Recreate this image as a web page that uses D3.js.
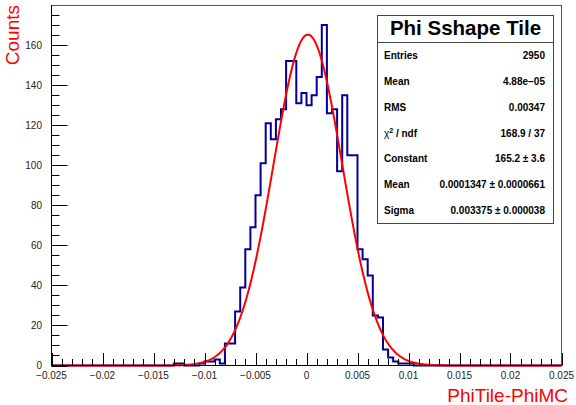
<!DOCTYPE html>
<meta charset="utf-8">
<style>
body { margin: 0; background: #fff; }
text { font-family: "Liberation Sans", Arial, Helvetica, sans-serif; }
</style>
<body>
<script src="https://cdn.jsdelivr.net/npm/d3@7"></script>
<script>

// histogram binning: 100 bins from -0.025 to 0.025
var binLow = -0.025, binWidth = 0.0005;
var counts = [
  0,0,0,0,0,0,0,0,0,0, 0,0,0,0,0,0,0,0,0,0,
  0,0,0,0,1,1,0,0,0,1, 2,2,3,1,11,11,27,39,58,69,
  85,101,121,113,123,128,152,152,131,136, 130,135,144,170,126,128,97,135,105,105,
  58,53,45,25,24,8,4,2,1,1, 1,0,0,0,0,0,0,0,0,0,
  0,0,0,0,0,0,0,0,0,0, 0,0,0,0,0,0,0,0,0,0
];

// gaussian fit parameters
var fitConst = 165.2, fitMean = 0.0001347, fitSigma = 0.003375;

var xTicks = [-0.025, -0.02, -0.015, -0.01, -0.005, 0, 0.005, 0.01, 0.015, 0.02, 0.025];
var yTicks = [0, 20, 40, 60, 80, 100, 120, 140, 160];

var statNames = ["Entries", "Mean", "RMS", "χ2 / ndf", "Constant", "Mean", "Sigma"];
var statValues = ["2950", "4.88e\u221205", "0.00347", "168.9 / 37", "165.2 \u00b1 3.6",
                  "0.0001347 \u00b1 0.0000661", "0.003375 \u00b1 0.000038"];

var W = 576, H = 405;
var fLeft = 51.5, fRight = 561.5, fTop = 5, fBottom = 365.5;

var svg = d3.select("body").append("svg")
    .attr("width", W)
    .attr("height", H);

var x = d3.scaleLinear().domain([-0.025, 0.025]).range([fLeft, fRight]);
var y = d3.scaleLinear().domain([0, 180]).range([fBottom, fTop]);

// frame
svg.append("rect")
    .attr("x", fLeft).attr("y", fTop + 0.5)
    .attr("width", fRight - fLeft).attr("height", fBottom - fTop - 0.5)
    .attr("fill", "none").attr("stroke", "#555").attr("stroke-width", 1);

// histogram outline
var pts = counts.map(function(c, i) { return [binLow + i * binWidth, c]; });
pts.push([binLow + counts.length * binWidth, counts[counts.length - 1]]);

svg.append("path")
    .datum(pts)
    .attr("fill", "none")
    .attr("stroke", "#000099")
    .attr("stroke-width", 2)
    .attr("d", d3.line()
        .x(function(d) { return x(d[0]); })
        .y(function(d) { return y(d[1]); })
        .curve(d3.curveStepAfter));

// fit curve
var fx = d3.range(0, 501).map(function(i) { return -0.025 + i * 0.0001; });
svg.append("path")
    .datum(fx)
    .attr("fill", "none")
    .attr("stroke", "#ff0000")
    .attr("stroke-width", 2)
    .attr("d", d3.line()
        .x(function(d) { return x(d); })
        .y(function(d) {
          var z = (d - fitMean) / fitSigma;
          return y(fitConst * Math.exp(-0.5 * z * z));
        }));

// axes lines
svg.append("line").attr("x1", fLeft).attr("x2", fRight).attr("y1", fBottom).attr("y2", fBottom)
    .attr("stroke", "#000");
svg.append("line").attr("x1", fLeft).attr("x2", fLeft).attr("y1", fTop).attr("y2", fBottom)
    .attr("stroke", "#000");

// x ticks (inside, pointing up)
var xMinor = d3.range(0, 51).map(function(i) { return -0.025 + i * 0.001; });
svg.append("g").selectAll("line")
    .data(xMinor).enter().append("line")
    .attr("x1", function(d) { return Math.round(x(d)) + 0.5; })
    .attr("x2", function(d) { return Math.round(x(d)) + 0.5; })
    .attr("y1", fBottom)
    .attr("y2", function(d, i) { return fBottom - (i % 5 == 0 ? 12.5 : 6.5); })
    .attr("stroke", "#000");

svg.append("g").selectAll("text")
    .data(xTicks).enter().append("text")
    .attr("x", function(d) { return x(d); })
    .attr("y", 379)
    .attr("text-anchor", "middle")
    .attr("font-size", 10)
    .attr("fill", "#222")
    .text(function(d) { return d == 0 ? "0" : d3.format("")(d).replace("-", "\u2212"); });

// y ticks (inside, pointing right)
var yMinor = d3.range(0, 36).map(function(i) { return i * 5; });
svg.append("g").selectAll("line")
    .data(yMinor).enter().append("line")
    .attr("x1", fLeft)
    .attr("x2", function(d) { return fLeft + (d % 20 == 0 ? 16 : 8); })
    .attr("y1", function(d) { return Math.round(y(d)) + 0.5; })
    .attr("y2", function(d) { return Math.round(y(d)) + 0.5; })
    .attr("stroke", "#000");

svg.append("g").selectAll("text")
    .data(yTicks).enter().append("text")
    .attr("x", 42)
    .attr("y", function(d) { return y(d) + 3.5; })
    .attr("text-anchor", "end")
    .attr("font-size", 10)
    .attr("fill", "#222")
    .text(function(d) { return d; });

// axis titles
svg.append("text")
    .attr("transform", "translate(19," + fTop + ") rotate(-90)")
    .attr("text-anchor", "end")
    .attr("font-size", 19)
    .attr("fill", "#ff0000")
    .text("Counts");

svg.append("text")
    .attr("x", 568)
    .attr("y", 402)
    .attr("text-anchor", "end")
    .attr("font-size", 19)
    .attr("fill", "#ff0000")
    .text("PhiTile-PhiMC");

// stats box
var bx0 = 377.5, bx1 = 553.5, by0 = 15.5, byDiv = 42.5, by1 = 223.5;
var box = svg.append("g");
box.append("rect")
    .attr("x", bx0).attr("y", by0)
    .attr("width", bx1 - bx0).attr("height", by1 - by0)
    .attr("fill", "#fff").attr("stroke", "#444").attr("stroke-width", 1);
box.append("line")
    .attr("x1", bx0).attr("x2", bx1).attr("y1", byDiv).attr("y2", byDiv)
    .attr("stroke", "#444");
box.append("text")
    .attr("x", (bx0 + bx1) / 2)
    .attr("y", 35)
    .attr("text-anchor", "middle")
    .attr("font-size", 20.5)
    .attr("font-weight", "bold")
    .text("Phi Sshape Tile");

var rowH = (by1 - byDiv) / statNames.length;
statNames.forEach(function(n, i) {
  var yy = byDiv + (i + 0.5) * rowH + 3.5;
  var t = box.append("text")
      .attr("x", 384).attr("y", yy)
      .attr("font-size", 10)
      .attr("font-weight", "bold");
  if (n.indexOf("χ2") == 0) {
    t.append("tspan").attr("font-weight", "normal").text("χ");
    t.append("tspan").attr("font-size", 7).attr("dy", -3.5).text("2");
    t.append("tspan").attr("dy", 3.5).text(" / ndf");
  } else {
    t.text(n);
  }
  box.append("text")
      .attr("x", 545).attr("y", yy)
      .attr("text-anchor", "end")
      .attr("font-size", 10)
      .attr("font-weight", "bold")
      .text(statValues[i]);
});

</script>
</body>
